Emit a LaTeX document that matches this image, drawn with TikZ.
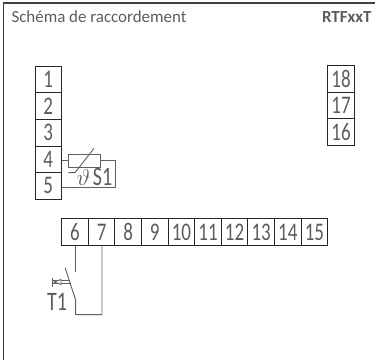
\documentclass[tikz,border=0pt]{standalone}
\usepackage{fontspec}
\setmainfont{Carlito}
\newfontfamily\digitfont[FakeStretch=0.75]{Carlito}
\usetikzlibrary{positioning, calc, arrows.meta}
\definecolor{wire}{gray}{0.38}
\definecolor{ink}{gray}{0.36}
\begin{document}
\begin{tikzpicture}[
    x=0.75pt, y=-0.75pt,
    line width=0.75pt,
    terminal/.style={
        rectangle,
        draw=black!85,
        minimum size=26.6*0.75pt,
        inner sep=0pt,
        text=ink,
        font=\digitfont\fontsize{19}{19}\selectfont
    },
    wireline/.style={
        draw=wire,
        line width=0.7pt
    },
    label/.style={
        text=ink,
        inner sep=0pt
    }
]
    % Fixes the page to the reference size
    \useasboundingbox (0,0) rectangle (375,360);
    \draw[black!75, line width=1pt] (3.5,360) -- (3.5,3) -- (375,3);

    \node[label, anchor=west, font=\fontsize{12.7}{13}\selectfont] (title) at (11,17) {Schéma de raccordement};
    \node[label, anchor=east, font=\fontsize{12.7}{13}\selectfont\bfseries] (model) at (372,17) {RTFxxT};

    % Left column
    \node[terminal] (t1) at (48.3,79.5) {1};
    \foreach \i [evaluate=\i as \j using int(\i-1)] in {2,...,5} {
        \node[terminal, below=-0.75pt of t\j] (t\i) {\i};
    }

    % Right column
    \node[terminal] (t18) at (341,79) {18};
    \node[terminal, below=-0.75pt of t18] (t17) {17};
    \node[terminal, below=-0.75pt of t17] (t16) {16};

    % Bottom row
    \node[terminal] (t6) at (75,232) {6};
    \foreach \i [evaluate=\i as \j using int(\i-1)] in {7,...,15} {
        \node[terminal, right=-0.75pt of t\j] (t\i) {\i};
    }

    % Sensor S1
    \node[rectangle, draw=wire, line width=0.7pt, minimum width=32.4*0.75pt, minimum height=13.4*0.75pt, inner sep=0pt] (res) at (84.5,160.7) {};
    \coordinate (sl1) at (68.3,172.7);
    \coordinate (sl2) at (75,172.7);
    \coordinate (sl3) at (94,148.3);
    \draw[wireline] (sl1) -- (sl2) -- (sl3);
    \node[label, font=\digitfont\fontsize{20}{20}\selectfont] (s1) at (102.5,177) {S1};
    \node[label, font=\fontsize{16}{16}\selectfont] (theta) at (83.5,177.5) {$\vartheta$};

    \coordinate (sr) at (115,160.7);
    \coordinate (sb) at (115,187.7);
    \draw[wireline] (t4.east |- res.west) -- (res.west);
    \draw[wireline] (res.east) -- (sr) -- (sb) -- (t5.east |- sb);

    % Push button T1
    \node[label, font=\digitfont\fontsize{20}{20}\selectfont] (t1lbl) at (57,301.5) {T1};
    \coordinate (sw1) at (75.7,271.7);
    \coordinate (sw2) at (75.7,300);
    \coordinate (sw3) at (65,267.7);
    \coordinate (sw4) at (75.7,314.7);
    \coordinate (sw5) at (102,314.7);
    \draw[wireline] (sw1 |- t6.south) -- (sw1);
    \draw[wireline] (sw3) -- (sw2) -- (sw4) -- (sw5) -- (sw5 |- t7.south);
    \draw[wireline] (52.3,277.5) -- (52.3,286.7);
    \draw[wireline] (52.3,280.2) -- (69.6,280.2);
    \draw[wireline] (52.3,283.8) -- (71,283.8);
    \draw[wireline, fill=white] (54,282) -- (61,279.5) -- (61,284.5) -- cycle;
\end{tikzpicture}
\end{document}
